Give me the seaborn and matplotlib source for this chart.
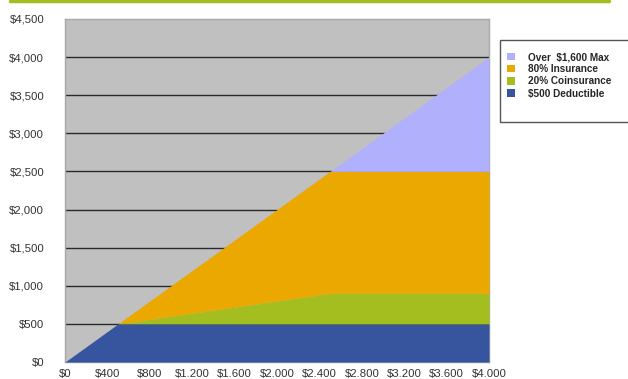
import matplotlib
matplotlib.use("Agg")
import matplotlib.pyplot as plt
import seaborn as sns
import pandas as pd
from matplotlib.lines import Line2D
from matplotlib.patches import Patch, Rectangle

# ---- data ----
claim = [0, 500, 2500, 4000]
deductible = [0, 500, 500, 500]
coinsurance = [0, 0, 400, 400]
insurance = [0, 0, 1600, 1600]
over_max = [0, 0, 0, 1500]
series_labels = ["$500 Deductible", "20% Coinsurance", "80% Insurance", "Over  $1,600 Max"]
colors = ["#37559e", "#a3be1e", "#eaa800", "#b0b0fc"]
x_ticks = list(range(0, 4001, 400))
x_tick_labels = ["$0", "$400", "$800", "$1.200", "$1.600", "$2.000", "$2.400",
                 "$2.800", "$3.200", "$3.600", "$4.000"]
y_ticks = list(range(0, 4501, 500))
y_tick_labels = ["$0", "$500", "$1,000", "$1,500", "$2,000", "$2,500",
                 "$3,000", "$3,500", "$4,000", "$4,500"]

df = pd.DataFrame({"claim": claim, series_labels[0]: deductible,
                   series_labels[1]: coinsurance, series_labels[2]: insurance,
                   series_labels[3]: over_max})

sns.set_theme(style="white")
plt.rcParams["font.family"] = ["Liberation Sans", "DejaVu Sans"]

fig = plt.figure(figsize=(6.28, 3.79), dpi=100)
ax = fig.add_axes([65 / 628, 1 - 362 / 379, (489 - 65) / 628, (362 - 19) / 379])
ax.set_facecolor("#c0c0c0")

ax.stackplot(df["claim"], [df[s] for s in series_labels], colors=colors,
             linewidth=0, zorder=3)

ax.set_xlim(0, 4000)
ax.set_ylim(0, 4500)
ax.set_xticks(x_ticks)
ax.set_xticklabels(x_tick_labels)
ax.set_yticks(y_ticks)
ax.set_yticklabels(y_tick_labels)
ax.tick_params(axis="both", length=0, labelsize=8.2, labelcolor="#333333")
ax.tick_params(axis="x", pad=5)
ax.tick_params(axis="y", pad=15)
for yv in y_ticks[1:-1]:
    ax.axhline(yv, color="#2a2a2a", linewidth=1.0, zorder=2)
for sp in ax.spines.values():
    sp.set_visible(True)
    sp.set_color("#a8a8a8")
    sp.set_linewidth(1.0)

# legend
handles = [Patch(facecolor=c, edgecolor="none") for c in colors][::-1]
labels = series_labels[::-1]
leg = fig.legend(handles, labels, loc="upper left",
                 bbox_to_anchor=(505 / 628, 1 - 50 / 379),
                 frameon=False, borderaxespad=0,
                 prop={"weight": "bold", "size": 7.2}, handlelength=0.75,
                 handleheight=0.75, handletextpad=1.3, labelspacing=0.22,
                 borderpad=0.2)
fig.add_artist(Rectangle((499.5 / 628, 1 - 121.5 / 379), 129 / 628, 81.5 / 379,
                         transform=fig.transFigure, facecolor="white",
                         edgecolor="#555555", linewidth=1.0, zorder=0))

# top green rule
fig.add_artist(Line2D([10 / 628, 609 / 628], [1 - 1 / 379, 1 - 1 / 379],
                      color="#a3be1e", linewidth=2.5, transform=fig.transFigure))

fig.savefig("out.png", dpi=100)
